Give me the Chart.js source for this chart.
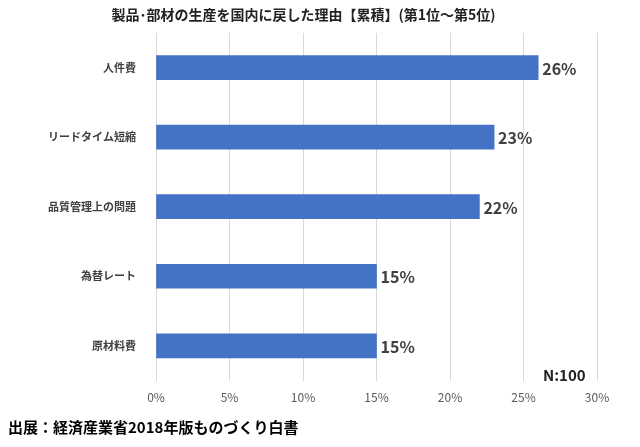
<!DOCTYPE html>
<html>
<head>
<meta charset="utf-8">
<script src="https://cdn.jsdelivr.net/npm/chart.js@4"></script>
<style>
  body { margin: 0; background: #fff; }
  #wrap { position: relative; width: 640px; height: 447px; }
  #source { position: absolute; left: 8px; top: 416px; font: bold 15px "Noto Sans CJK JP"; color: #000; }
  #note { position: absolute; left: 543px; top: 364px; font: bold 15px "Noto Sans CJK JP"; color: #222; }
</style>
</head>
<body>
<div id="wrap">
  <canvas id="chart" width="640" height="447"></canvas>
  <div id="note">N:100</div>
  <div id="source">出展：経済産業省2018年版ものづくり白書</div>
</div>
<script>
// 理由ごとの割合（%）
const categories = ['人件費', 'リードタイム短縮', '品質管理上の問題', '為替レート', '原材料費'];
const values = [26, 23, 22, 15, 15];
const tickValues = [0, 5, 10, 15, 20, 25, 30];

const labelPlugin = {
    id: 'barLabels',
    afterDatasetsDraw(chart) {
        const ctx = chart.ctx;
        ctx.save();
        ctx.font = 'bold 16px "Noto Sans CJK JP"';
        ctx.fillStyle = '#404040';
        ctx.textBaseline = 'middle';
        chart.getDatasetMeta(0).data.forEach(function (bar, i) {
            ctx.fillText(values[i] + '%', bar.x + 4, bar.y + 1);
        });
        ctx.restore();
    }
};

new Chart(document.getElementById('chart').getContext('2d'), {
    type: 'bar',
    data: {
        labels: categories,
        datasets: [{
            data: values,
            backgroundColor: '#4472c4',
            barThickness: 24
        }]
    },
    options: {
        indexAxis: 'y',
        responsive: false,
        animation: false,
        layout: { padding: { left: 10, right: 43, top: 0, bottom: 32 } },
        scales: {
            x: {
                min: 0,
                max: 30,
                afterBuildTicks: function (axis) {
                    axis.ticks = tickValues.map(v => ({ value: v }));
                },
                grid: { color: '#d9d9d9', drawTicks: false },
                border: { display: false },
                ticks: {
                    padding: 10,
                    color: '#595959',
                    font: { size: 12, family: 'Noto Sans CJK JP' },
                    callback: v => v + '%'
                }
            },
            y: {
                afterFit: function (axis) { axis.width = 146; },
                grid: { display: false },
                border: { display: false },
                ticks: {
                    padding: 12,
                    color: '#404040',
                    font: { size: 11, weight: 'bold', family: 'Noto Sans CJK JP' }
                }
            }
        },
        plugins: {
            legend: { display: false },
            tooltip: { enabled: false },
            title: {
                display: true,
                text: '製品･部材の生産を国内に戻した理由【累積】(第1位～第5位)',
                color: '#222',
                font: { size: 14, weight: 'bold', family: 'Noto Sans CJK JP' },
                padding: { top: 6, bottom: 10 }
            }
        }
    },
    plugins: [labelPlugin]
});
</script>
</body>
</html>
